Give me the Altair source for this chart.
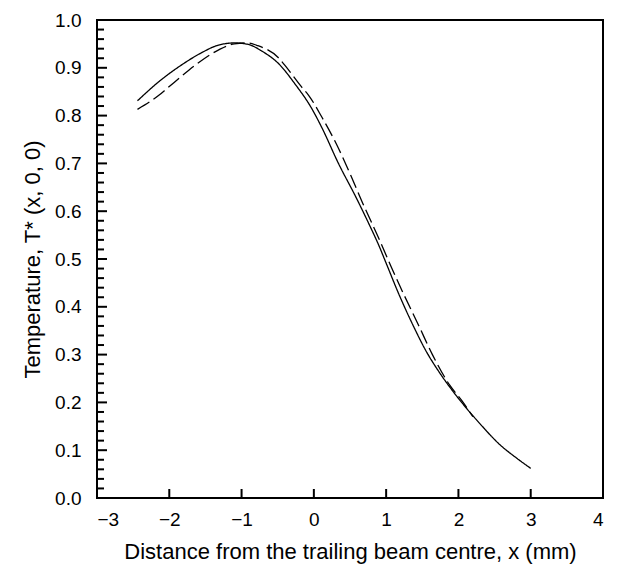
import altair as alt
import pandas as pd

# Solid curve
solid_x = [-2.44, -2.12, -1.84, -1.56, -1.33, -1.10, -0.91, -0.72, -0.49, -0.26,
           -0.03, 0.11, 0.34, 0.58, 0.76, 0.90, 0.99, 1.18, 1.37, 1.55, 1.74,
           1.92, 2.11, 2.30, 2.57, 2.80, 3.00]
solid_t = [0.831, 0.874, 0.905, 0.931, 0.947, 0.952, 0.949, 0.935, 0.909, 0.866,
           0.815, 0.775, 0.700, 0.630, 0.574, 0.528, 0.495, 0.425, 0.362, 0.308, 0.262,
           0.224, 0.188, 0.155, 0.112, 0.084, 0.062]

# Dashed curve
dashed_x = [-2.44, -2.14, -2.03, -1.73, -1.61, -1.31, -1.10, -0.91, -0.79, -0.49,
            -0.40, -0.17, -0.07, 0.11, 0.32, 0.51, 0.69, 0.89, 1.06, 1.25, 1.45,
            1.64, 1.88, 2.05, 2.20]
dashed_t = [0.813, 0.843, 0.857, 0.895, 0.909, 0.938, 0.950, 0.952, 0.947, 0.921,
            0.905, 0.860, 0.842, 0.797, 0.738, 0.675, 0.612, 0.546, 0.487, 0.424, 0.361,
            0.300, 0.236, 0.203, 0.170]

x_ticks = [-3, -2, -1, 0, 1, 2, 3, 4]
y_major = [round(i * 0.1, 2) for i in range(11)]
y_minor = [round(i * 0.02, 2) for i in range(51) if i % 5 != 0]

FONT = "Liberation Sans"
W, H = 506, 478

df = pd.concat([
    pd.DataFrame({"x": solid_x, "t": solid_t, "s": "solid"}),
    pd.DataFrame({"x": dashed_x, "t": dashed_t, "s": "dashed"}),
])

xscale = alt.Scale(domain=[-3, 4], nice=False, zero=False)
yscale = alt.Scale(domain=[0, 1], nice=False, zero=False)

lines = alt.Chart(df).mark_line(color="black", strokeWidth=1.3, interpolate="monotone").encode(
    x=alt.X("x:Q", scale=xscale,
            axis=alt.Axis(values=x_ticks, format="d", title="Distance from the trailing beam centre, x (mm)",
                          ticks=False, tickSize=0, domain=False, grid=False,
                          labelPadding=12, titlePadding=12)),
    y=alt.Y("t:Q", scale=yscale,
            axis=alt.Axis(values=y_major, format=".1f", title="Temperature, T* (x, 0, 0)",
                          ticks=False, tickSize=0, domain=False, grid=False,
                          labelPadding=16, titlePadding=10)),
    strokeDash=alt.StrokeDash("s:N", scale=alt.Scale(domain=["solid", "dashed"],
                                                      range=[[1, 0], [14, 5]]), legend=None),
    detail="s:N",
)

ymaj = alt.Chart(pd.DataFrame({"v": y_major})).mark_rule(color="black", strokeWidth=2).encode(
    y=alt.Y("v:Q", scale=yscale), x=alt.value(0), x2=alt.value(10))
ymin = alt.Chart(pd.DataFrame({"v": y_minor})).mark_rule(color="black", strokeWidth=2).encode(
    y=alt.Y("v:Q", scale=yscale), x=alt.value(0), x2=alt.value(7))
xmaj = alt.Chart(pd.DataFrame({"v": x_ticks})).mark_rule(color="black", strokeWidth=2).encode(
    x=alt.X("v:Q", scale=xscale), y=alt.value(H), y2=alt.value(H - 9))

chart = alt.layer(lines, ymaj, ymin, xmaj).properties(
    width=W, height=H,
    background="white",
    autosize=alt.AutoSizeParams(type="none"),
    padding={"left": 97, "top": 20, "right": 25, "bottom": 69},
).configure_view(stroke="black", strokeWidth=2).configure_axis(
    labelFont=FONT, titleFont=FONT, labelFontSize=19, titleFontSize=22,
    labelColor="black", titleColor="black", titleFontWeight="normal",
)

chart.save("out.html", embed_options={"renderer": "svg", "actions": False})
